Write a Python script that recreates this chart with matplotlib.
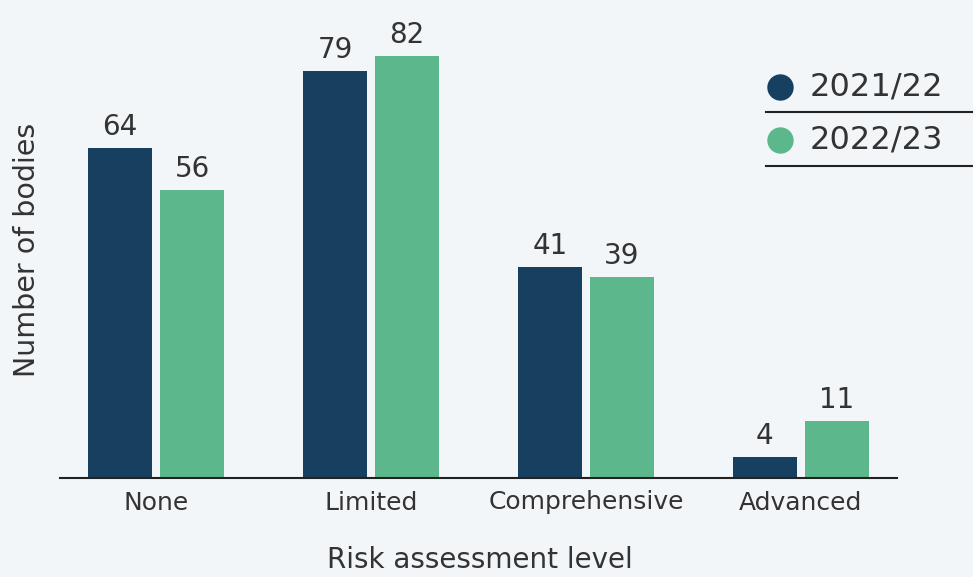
import matplotlib.pyplot as plt
from matplotlib.lines import Line2D
import numpy as np

# Data
levels = ['None', 'Limited', 'Comprehensive', 'Advanced']
years = ['2021/22', '2022/23']
counts_2122 = [64, 79, 41, 4]
counts_2223 = [56, 82, 39, 11]

colors = ['#173f5f', '#5cb88c']
bg = '#f3f6f9'
txt = '#333333'

plt.rcParams['font.family'] = ['DejaVu Sans']

fig = plt.figure(figsize=(9.73, 5.77), dpi=100, facecolor=bg)
ax = fig.add_axes([60 / 973, 1 - 478 / 577, (897 - 60) / 973, 478 / 577])
ax.set_facecolor(bg)

x = np.arange(len(levels))
w = 0.298
off = 0.1674
for vals, dx, c in [(counts_2122, -off, colors[0]), (counts_2223, off, colors[1])]:
    bars = ax.bar(x + dx, vals, width=w, color=c, zorder=2)
    for b, v in zip(bars, vals):
        ax.annotate(str(v), (b.get_x() + b.get_width() / 2, v), xytext=(0, 5),
                    textcoords='offset points', ha='center', va='bottom',
                    fontsize=20, color=txt)

ax.set_xlim(-0.447, 3.447)
ax.set_ylim(0, 92.8)
ax.set_xticks(x)
ax.set_xticklabels(levels, fontsize=18, color=txt)
ax.tick_params(axis='x', length=0, pad=9)
ax.set_yticks([])
for s in ['top', 'right', 'left']:
    ax.spines[s].set_visible(False)
ax.spines['bottom'].set_color('#222222')
ax.spines['bottom'].set_linewidth(1.5)

# axis titles
fig.text(480 / 973, 1 - 568 / 577, 'Risk assessment level', ha='center', va='baseline',
         fontsize=20, color=txt)
fig.text(27 / 973, 1 - 250 / 577, 'Number of bodies', rotation=90, ha='center', va='center',
         fontsize=20.5, color=txt)

# legend with rules under each entry
for i, (yr, c) in enumerate(zip(years, colors)):
    yc = 1 - (87 + 53 * i) / 577
    fig.add_artist(Line2D([780 / 973], [yc], marker='o', markersize=18, color=c, linestyle='none'))
    fig.text(810 / 973, yc, yr, ha='left', va='center', fontsize=23, color=txt)
    yl = 1 - (112 + 54 * i) / 577
    fig.add_artist(Line2D([766 / 973, 1.0], [yl, yl], color='#222222', linewidth=1.5))

fig.savefig('out.png', dpi=100, facecolor=bg)
